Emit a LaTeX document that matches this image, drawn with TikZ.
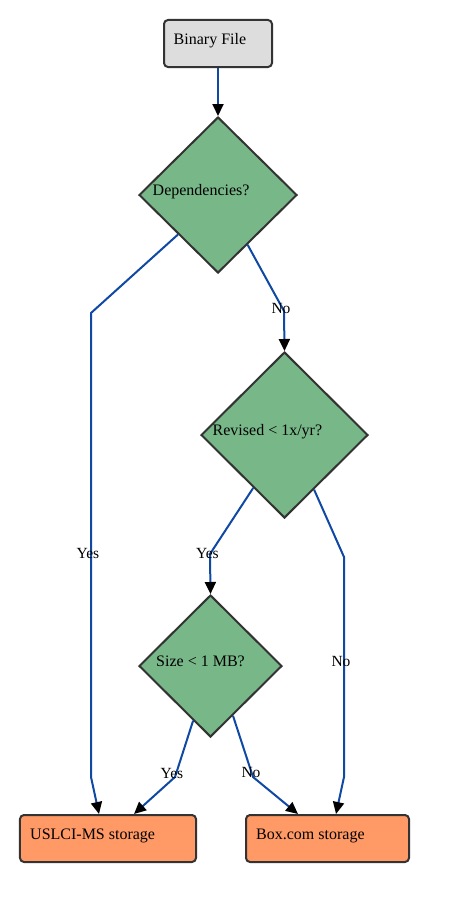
\documentclass[tikz,border=0pt]{standalone}
\usepackage{fontspec}
\setmainfont{Liberation Serif}
\usetikzlibrary{shapes.geometric,arrows.meta,calc}
\definecolor{flowblue}{HTML}{0F49A3}
\definecolor{decisiongreen}{HTML}{78B888}
\definecolor{startgray}{HTML}{DDDDDD}
\definecolor{storeorange}{HTML}{FF9966}
\definecolor{outline}{HTML}{333333}

\begin{document}
\begin{tikzpicture}[x=1bp,y=-1bp,
  every node/.style={font=\fontsize{16bp}{19bp}\selectfont},
  startbox/.style={draw=outline,line width=2bp,fill=startgray,rounded corners=4bp,
    minimum width=108bp,minimum height=47bp,inner sep=0},
  storebox/.style={draw=outline,line width=2bp,fill=storeorange,rounded corners=4bp,
    minimum height=47bp,inner sep=0},
  decision/.style={diamond,draw=outline,line width=2bp,fill=decisiongreen,inner sep=0},
  nodetext/.style={anchor=base west,inner sep=0},
  flow/.style={draw=flowblue,line width=2bp,
    -{Triangle[length=12bp,width=11bp,color=black]}},
  edgetext/.style={inner sep=0,font=\fontsize{15.5bp}{18bp}\selectfont},
]
\useasboundingbox (0,0) rectangle (449,902);

% start box
\node[startbox] (binary) at (218,43.5) {};
\node[nodetext] (binary-text) at (173.5,44) {Binary File};

% decisions
\node[decision,minimum width=158bp,minimum height=156bp] (deps) at (218,195) {};
\node[nodetext] (deps-text) at (152.5,195.5) {Dependencies?};

\node[decision,minimum width=167bp,minimum height=166bp] (revised) at (284.5,435) {};
\node[nodetext] (revised-text) at (212.5,435.5) {Revised < 1x/yr?};

\node[decision,minimum width=143bp,minimum height=142bp] (size) at (210.5,666) {};
\node[nodetext] (size-text) at (156,666.5) {Size < 1 MB?};

% storage targets
\node[storebox,minimum width=176bp] (uslci) at (108,838.5) {};
\node[nodetext] (uslci-text) at (30,839) {USLCI-MS storage};

\node[storebox,minimum width=163bp] (box) at (327.5,838.5) {};
\node[nodetext] (box-text) at (256,839) {Box.com storage};

% connectors
\draw[flow] (binary.south) -- (deps.north);
\draw[flow] ($(deps.west)!0.5!(deps.south)$) -- (91,313) -- (91,777)
  -- ([xshift=-9bp]uslci.north);
\draw[flow] ($(deps.south)!0.37!(deps.east)$) -- (284,311) -- (revised.north);
\draw[flow] ($(revised.west)!0.63!(revised.south)$) -- (210,554) -- (size.north);
\draw[flow] ($(revised.south)!0.35!(revised.east)$) -- (344,557) -- (344,777)
  -- ([xshift=8.5bp]box.north);
\draw[flow] ($(size.west)!0.76!(size.south)$) -- (175,777)
  -- ([xshift=26bp]uslci.north);
\draw[flow] ($(size.south)!0.31!(size.east)$) -- (253,777)
  -- ([xshift=-29.5bp]box.north);

% connector labels
\node[edgetext] (deps-yes) at (88,553) {Yes};
\node[edgetext] (deps-no) at (281,308.5) {No};
\node[edgetext] (revised-yes) at (207.5,553) {Yes};
\node[edgetext] (revised-no) at (341,661.5) {No};
\node[edgetext] (size-yes) at (172,773) {Yes};
\node[edgetext] (size-no) at (251,772.5) {No};
\end{tikzpicture}
\end{document}
